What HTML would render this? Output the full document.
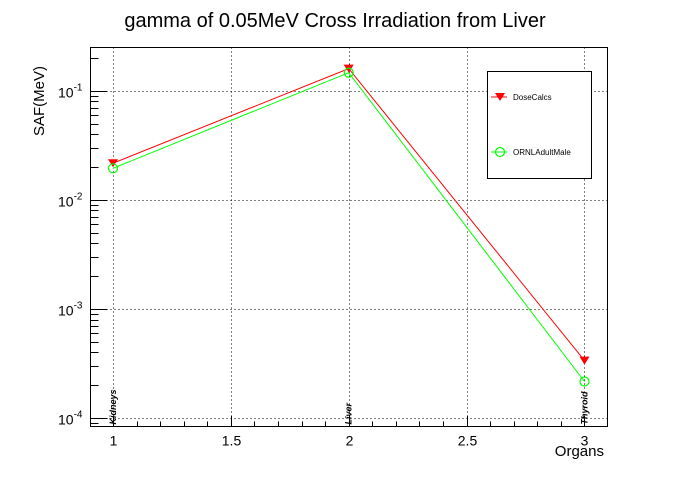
<!DOCTYPE html>
<html><head><meta charset="utf-8"><style>
body{margin:0;background:#fff;}
svg text{font-family:"Liberation Sans",sans-serif;}
</style></head><body>
<svg id="chart" width="696" height="472" viewBox="0 0 696 472" xmlns="http://www.w3.org/2000/svg">
<rect width="696" height="472" fill="#fff"/>
<text x="335" y="27" font-size="20" text-anchor="middle">gamma of 0.05MeV Cross Irradiation from Liver</text>
<g id="grid"></g>
<g id="axes"></g>
<g id="series"></g>
<rect x="90.5" y="47.5" width="517" height="379" fill="none" stroke="#000"/>
<text transform="translate(44,101) rotate(-90)" font-size="15" text-anchor="middle">SAF(MeV)</text>
<text x="604" y="456" font-size="15" text-anchor="end">Organs</text>
<g>
<rect x="487.5" y="71.5" width="104" height="107" fill="#fff" stroke="#000"/>
<g>
<line x1="491" y1="97" x2="507" y2="97" stroke="#f00"/>
<polygon points="495,93 505,93 500,101" fill="#f00"/>
<text x="513" y="100" font-size="8">DoseCalcs</text>
</g>
<g>
<line x1="491" y1="152" x2="507" y2="152" stroke="#0f0"/>
<circle cx="500" cy="152" r="4.5" fill="none" stroke="#0f0" stroke-width="1.2"/>
<text x="513" y="155" font-size="8">ORNLAdultMale</text>
</g>
</g>
</svg>
<script>
const categories = ["Kidneys", "Liver", "Thyroid"];
const categoryX = [1, 2, 3];
const doseCalcs = [0.0217, 0.16, 0.000336];
const ornlAdultMale = [0.0195, 0.147, 0.000216];
const xTicks = [1, 1.5, 2, 2.5, 3];
const xTickLabels = ["1", "1.5", "2", "2.5", "3"];
const yDecades = [-4, -3, -2, -1];

const L=90.5,R=607.5,T=47.5,B=426.5;
const xmin=0.9046,xmax=3.0976,lmin=-4.078,lmax=-0.602;
const NS="http://www.w3.org/2000/svg";
const xs=v=>L+(v-xmin)/(xmax-xmin)*(R-L);
const ys=v=>B-(Math.log10(v)-lmin)/(lmax-lmin)*(B-T);
function mk(tag,attrs,parent){const e=document.createElementNS(NS,tag);for(const k in attrs)e.setAttribute(k,attrs[k]);parent.appendChild(e);return e;}
const grid=document.getElementById('grid'),axes=document.getElementById('axes'),series=document.getElementById('series');
xTicks.forEach((t,i)=>{
  const x=Math.round(xs(t))+0.5;
  const g=mk('line',{x1:x,x2:x,y1:T,y2:B,stroke:'#000','stroke-dasharray':'1,3'},grid);
  
  
  const tk=mk('line',{x1:x,x2:x,y1:B,y2:B-11,stroke:'#000'},axes);
  
  
  const lb=mk('text',{x:x,y:B+19,'font-size':14,'text-anchor':'middle'},axes);
  lb.textContent=xTickLabels[i];
  
  
});
for(let v=xmin;v<=xmax;v+=0.1){
  const vv=Math.round(v*10)/10; if(vv<xmin||vv>xmax) continue;
  const x=Math.round(xs(vv))+0.5;
  const tk=mk('line',{x1:x,x2:x,y1:B,y2:B-5,stroke:'#000'},axes);
  
  
}
yDecades.forEach(d=>{
  const y=Math.round(ys(Math.pow(10,d)))+0.5;
  const g=mk('line',{x1:L,x2:R,y1:y,y2:y,stroke:'#000','stroke-dasharray':'1,3'},grid);
  
  
  const tk=mk('line',{x1:L,x2:L+16,y1:y,y2:y,stroke:'#000'},axes);
  
  
  const lb=mk('text',{x:L-8,y:y+6,'font-size':14,'text-anchor':'end'},axes);
  lb.innerHTML='10<tspan dy="-7" font-size="10">'+d+'</tspan>';
  
  
});
for(let d=-5;d<=0;d++)for(let m=2;m<=9;m++){
  const v=m*Math.pow(10,d);const lv=Math.log10(v);
  if(lv<lmin||lv>lmax)continue;
  const y=Math.round(ys(v))+0.5;
  const tk=mk('line',{x1:L,x2:L+8,y1:y,y2:y,stroke:'#000'},axes);
  
  
}
categories.forEach((c,i)=>{
  const x=xs(categoryX[i])+3;
  const t=mk('text',{transform:`translate(${x},${B-2}) rotate(-90)`,'font-size':9,'font-style':'italic','font-weight':'bold'},axes);
  t.textContent=c;
  
  
});
function drawSeries(vals,color,marker,name){
  const pts=vals.map((v,i)=>xs(categoryX[i]).toFixed(1)+','+ys(v).toFixed(1)).join(' ');
  const pl=mk('polyline',{points:pts,fill:'none',stroke:color,'stroke-width':1},series);
  
  
  vals.forEach((v,i)=>{
    const x=xs(categoryX[i]),y=ys(v);let m;
    if(marker==='tri') m=mk('polygon',{points:`${x-5},${y-4} ${x+5},${y-4} ${x},${y+4}`,fill:color},series);
    else m=mk('circle',{cx:x,cy:y,r:4.5,fill:'none',stroke:color,'stroke-width':1.2},series);
    
    
  });
}
drawSeries(doseCalcs,'#f00','tri','dosecalcs');
drawSeries(ornlAdultMale,'#0f0','circ','ornl');
</script>
</body></html>
